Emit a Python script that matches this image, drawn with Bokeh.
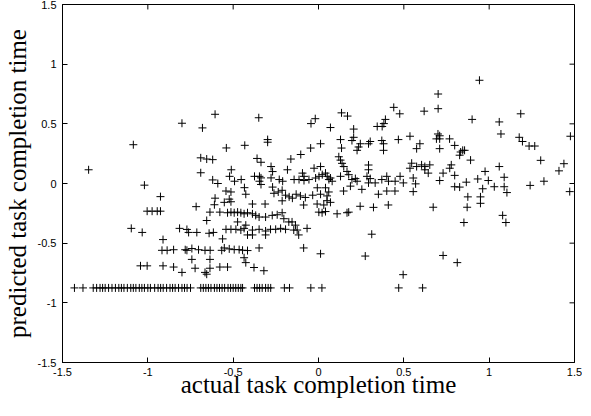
from bokeh.plotting import figure
from bokeh.models import FixedTicker, Range1d
from bokeh.embed import file_html
from bokeh.resources import INLINE

ticks = [-1.5, -1, -0.5, 0, 0.5, 1, 1.5]
tick_labels = ["-1.5", "-1", "-0.5", "0", "0.5", "1", "1.5"]
x_title = "actual task completion time"
y_title = "predicted task completion time"

# points sitting on the floor value of the prediction
floor_value = -0.875
floor_actual = [-1.43, -1.38, -1.32, -1.30, -1.28, -1.265, -1.25, -1.23, -1.21, -1.19,
                -1.17, -1.155, -1.14, -1.12, -1.10, -1.085, -1.07, -1.05, -1.035, -1.02,
                -1.00, -0.985, -0.96, -0.94, -0.925, -0.91, -0.89, -0.87, -0.855, -0.84,
                -0.82, -0.80, -0.785, -0.77, -0.75, -0.69, -0.675, -0.66, -0.645, -0.63,
                -0.61, -0.595, -0.58, -0.565, -0.55, -0.53, -0.515, -0.50, -0.485, -0.47,
                -0.455, -0.445, -0.375, -0.36, -0.345, -0.33, -0.31, -0.295, -0.28, -0.20,
                -0.17, -0.045, 0.02, 0.47, 0.61]

left_points = [(-1.347, 0.115), (-1.085, 0.325), (-1.02, -0.014), (-0.926, -0.11), (-1.004, -0.232),
               (-0.975, -0.232), (-0.945, -0.232), (-0.926, -0.232), (-0.80, 0.505), (-0.68, 0.466),
               (-0.606, 0.58), (-0.69, 0.215), (-0.655, 0.205), (-0.62, 0.2), (-0.69, 0.09),
               (-0.62, 0.03), (-0.59, 0.0), (-0.606, -0.123), (-0.61, -0.178), (-0.717, -0.194),
               (-0.636, -0.24), (-0.578, -0.24), (-0.655, -0.31), (-1.097, -0.376), (-1.033, -0.41),
               (-0.814, -0.376), (-0.771, -0.385), (-0.761, -0.41), (-0.713, -0.41), (-0.641, -0.417),
               (-0.616, -0.41), (-0.911, -0.47), (-0.917, -0.56), (-0.887, -0.56), (-0.849, -0.555),
               (-0.781, -0.555), (-0.771, -0.56), (-0.742, -0.545), (-0.703, -0.555), (-0.665, -0.56),
               (-0.635, -0.56), (-0.567, -0.56), (-0.742, -0.636), (-0.636, -0.636), (-1.043, -0.69),
               (-1.004, -0.69), (-0.911, -0.69), (-0.849, -0.70), (-0.8, -0.745), (-0.723, -0.71),
               (-0.665, -0.745), (-0.636, -0.71), (-0.578, -0.70), (-0.655, -0.76)]

mid_points = [(-0.54, 0.298), (-0.432, 0.32), (-0.35, 0.551), (-0.298, 0.368), (-0.298, 0.346),
              (-0.36, 0.21), (-0.337, 0.178), (-0.511, 0.115), (-0.521, 0.06), (-0.492, 0.019),
              (-0.453, 0.033), (-0.434, -0.035), (-0.375, 0.06), (-0.346, 0.06), (-0.337, 0.047),
              (-0.346, 0.019), (-0.337, -0.008), (-0.278, 0.142), (-0.269, 0.10), (-0.278, 0.047),
              (-0.23, 0.033), (-0.21, 0.019), (-0.269, -0.03), (-0.182, 0.115)]

low_mid_points = [(-0.542, -0.063), (-0.513, -0.071), (-0.523, -0.131), (-0.426, -0.09), (-0.261, -0.082),
                  (-0.236, -0.071), (-0.213, -0.057), (-0.193, -0.098), (-0.131, -0.09), (-0.106, -0.104),
                  (-0.077, -0.117), (-0.034, -0.098), (-0.213, -0.145), (-0.172, -0.112), (-0.153, -0.123),
                  (-0.552, -0.158), (-0.513, -0.153), (-0.387, -0.172), (-0.313, -0.172), (-0.087, -0.18),
                  (-0.533, -0.245), (-0.513, -0.24), (-0.494, -0.245), (-0.474, -0.24), (-0.455, -0.245),
                  (-0.436, -0.254), (-0.416, -0.245), (-0.387, -0.254), (-0.368, -0.267), (-0.348, -0.281),
                  (-0.31, -0.281), (-0.271, -0.267), (-0.242, -0.262), (-0.213, -0.245), (-0.203, -0.295),
                  (-0.174, -0.322), (-0.155, -0.322), (-0.135, -0.349), (-0.145, -0.39), (-0.125, -0.39),
                  (-0.116, -0.431), (-0.067, -0.376), (-0.474, -0.322), (-0.426, -0.349), (-0.436, -0.376),
                  (-0.542, -0.384), (-0.513, -0.384), (-0.484, -0.384), (-0.455, -0.39), (-0.387, -0.39),
                  (-0.348, -0.384), (-0.31, -0.398), (-0.281, -0.384), (-0.251, -0.384), (-0.222, -0.376),
                  (-0.193, -0.384), (-0.416, -0.431), (-0.387, -0.431), (-0.31, -0.431), (-0.562, -0.464),
                  (-0.348, -0.54), (-0.087, -0.54), (-0.552, -0.54), (-0.523, -0.548), (-0.494, -0.554),
                  (-0.465, -0.554), (-0.445, -0.559), (-0.416, -0.562), (-0.436, -0.622), (-0.426, -0.663),
                  (-0.378, -0.704), (-0.32, -0.731), (-0.533, -0.70)]

centre_points = [(0.07, 0.469), (0.206, 0.456), (0.206, 0.387), (0.196, 0.36), (0.245, 0.333),
                 (0.235, 0.306), (0.226, 0.278), (0.303, 0.352), (0.293, 0.333), (0.371, 0.36),
                 (0.381, 0.333), (0.381, 0.278), (0.468, 0.368), (0.129, 0.368), (0.135, 0.297),
                 (-0.046, 0.297), (0.012, 0.333), (-0.104, 0.243), (-0.162, 0.205), (0.119, 0.224),
                 (0.129, 0.196), (0.138, 0.169), (0.148, 0.142), (0.293, 0.155), (0.293, 0.115),
                 (-0.026, 0.128), (0.012, 0.142), (-0.094, 0.087), (-0.085, 0.06), (-0.114, 0.033),
                 (-0.143, 0.033), (-0.085, 0.025), (-0.056, 0.033), (-0.017, 0.046), (0.003, 0.06),
                 (0.022, 0.074), (0.041, 0.087), (0.051, 0.06), (0.061, 0.033), (0.07, 0.046),
                 (0.08, 0.019), (0.129, 0.06), (0.167, 0.101), (0.177, 0.074), (0.196, 0.033),
                 (0.216, 0.041), (0.226, 0.019), (0.284, 0.06), (0.303, 0.041), (0.293, 0.005),
                 (0.332, 0.005), (0.371, 0.033), (0.4, 0.06), (0.41, 0.019), (0.449, 0.019),
                 (0.478, 0.06), (0.497, 0.005), (-0.007, -0.036), (0.041, -0.036), (0.187, -0.022)]

upper_points = [(-0.044, 0.502), (-0.019, 0.543), (0.135, 0.592), (0.17, 0.565), (0.344, 0.478),
                (0.373, 0.478), (0.392, 0.537), (0.383, 0.502), (0.441, 0.638), (0.476, 0.584)]

low_centre_points = [(0.012, -0.09), (0.05, -0.104), (0.06, -0.071), (0.05, -0.144), (0.07, -0.158),
                     (0.031, -0.18), (-0.008, -0.172), (0.002, -0.24), (0.021, -0.245), (0.041, -0.235),
                     (0.109, -0.254), (0.167, -0.245), (0.177, -0.24), (0.147, -0.063), (0.254, -0.049),
                     (0.351, -0.09), (0.4, -0.063), (0.448, -0.063), (0.244, -0.191), (0.322, -0.2),
                     (0.409, -0.18), (0.312, -0.425), (0.012, -0.589), (0.274, -0.608), (0.496, -0.764)]

right_points = [(0.943, 0.865), (0.701, 0.75), (0.701, 0.627), (0.619, 0.606), (0.9, 0.537),
                (1.059, 0.516), (1.185, 0.584), (1.069, 0.415), (0.536, 0.396), (0.691, 0.374),
                (0.71, 0.374), (0.7, 0.415), (0.71, 0.40), (0.768, 0.374), (0.594, 0.333),
                (0.575, 0.292), (0.71, 0.292), (0.798, 0.319), (0.833, 0.264), (0.845, 0.278),
                (0.856, 0.278), (0.827, 0.237), (0.891, 0.196), (1.176, 0.387), (1.195, 0.352),
                (1.234, 0.314), (1.267, 0.314), (1.302, 0.194), (1.438, 0.166), (1.409, 0.106),
                (1.476, 0.396), (0.546, 0.17), (0.575, 0.142), (0.604, 0.156), (0.623, 0.142),
                (0.652, 0.156), (0.536, 0.128), (0.623, 0.115), (0.643, 0.087), (0.778, 0.156),
                (0.769, 0.128), (0.73, 0.087), (0.71, 0.025), (0.798, 0.068), (0.555, 0.046),
                (0.569, -0.003), (0.555, -0.068), (0.798, -0.027), (0.827, -0.03), (0.866, 0.011),
                (0.976, 0.101), (0.933, 0.038), (0.995, 0.025), (0.962, -0.044), (1.03, -0.027),
                (1.088, 0.052), (1.088, -0.027), (1.104, -0.076), (0.875, -0.112), (0.949, -0.112),
                (1.059, 0.142), (1.24, -0.016), (1.321, 0.019), (1.472, -0.068), (0.672, -0.199),
                (0.871, -0.199), (0.949, -0.166), (1.079, -0.267), (1.098, -0.327), (0.852, -0.327),
                (0.73, -0.603), (0.813, -0.663)]

groups = [left_points, mid_points, low_mid_points, centre_points, upper_points,
          low_centre_points, right_points]
actual = list(floor_actual)
predicted = [floor_value] * len(floor_actual)
for g in groups:
    for a, b in g:
        actual.append(a)
        predicted.append(b)

W, H = 582, 400
BL, BR, BT, BB = 59, 8, 4, 30
p = figure(width=W, height=H, x_range=Range1d(-1.5, 1.5), y_range=Range1d(-1.5, 1.5),
           output_backend="svg", toolbar_location=None,
           min_border_left=BL, min_border_right=BR, min_border_top=BT, min_border_bottom=BB)
p.background_fill_color = "white"
p.border_fill_color = "white"
p.outline_line_color = "black"
p.outline_line_width = 1
p.xgrid.visible = False
p.ygrid.visible = False

tick_map = {t: s for t, s in zip(ticks, tick_labels)}

for ax in p.xaxis + p.yaxis:
    ax.ticker = FixedTicker(ticks=ticks, minor_ticks=[])
    ax.major_tick_in = 5
    ax.major_tick_out = 0
    ax.minor_tick_in = 0
    ax.minor_tick_out = 0
    ax.axis_line_color = "black"
    ax.major_tick_line_color = "black"
    ax.major_label_overrides = tick_map
    ax.major_label_text_font = "Liberation Sans"
    ax.major_label_text_font_size = "11px"
    ax.major_label_text_color = "black"
    ax.axis_label_text_font = "Liberation Serif"
    ax.axis_label_text_font_size = "25px"
    ax.axis_label_text_font_style = "normal"
    ax.axis_label_text_color = "black"

p.xaxis.axis_label = x_title
p.xaxis.major_label_standoff = 5
p.xaxis.axis_label_standoff = -8
p.yaxis.axis_label = y_title
p.yaxis.major_label_standoff = 6
p.yaxis.axis_label_standoff = 4

# inward ticks on the top and right border (5 px long)
frame_w = W - BL - BR
frame_h = H - BT - 36
dx = 5 * 3.0 / frame_w
dy = 5 * 3.0 / frame_h
p.segment(x0=ticks, y0=[1.5] * len(ticks), x1=ticks, y1=[1.5 - dy] * len(ticks),
          line_color="black", line_width=1)
p.segment(x0=[1.5] * len(ticks), y0=ticks, x1=[1.5 - dx] * len(ticks), y1=ticks,
          line_color="black", line_width=1)

p.scatter(actual, predicted, marker="cross", size=8, line_color="black", line_width=1)

open("out.html", "w").write(file_html(p, INLINE))
